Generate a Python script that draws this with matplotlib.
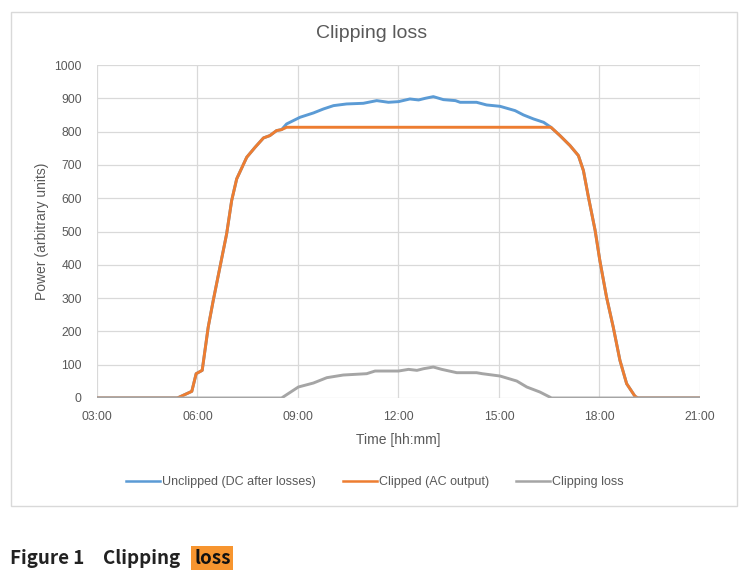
import matplotlib
matplotlib.use("Agg")
import matplotlib.pyplot as plt
from matplotlib.patches import Rectangle

# values (hours of day -> power)
clipped_t = [3.0, 5.4, 5.83, 5.96, 6.14, 6.32, 6.47, 6.67, 6.87, 7.02, 7.17, 7.47, 7.72, 7.97, 8.16, 8.36, 8.51, 8.66,
             16.55, 16.82, 17.12, 17.37, 17.52, 17.67, 17.87, 18.01, 18.21, 18.41, 18.61, 18.81, 19.06, 19.15, 21.0]
clipped_v = [0, 0, 20, 73, 83, 213, 293, 393, 493, 593, 658, 723, 753, 781, 788, 803, 806, 813,
             813, 788, 758, 728, 683, 603, 503, 413, 303, 213, 113, 43, 5, 0, 0]

unclipped_t = [3.0, 5.4, 5.83, 5.96, 6.14, 6.32, 6.47, 6.67, 6.87, 7.02, 7.17, 7.47, 7.72, 7.97, 8.16, 8.36, 8.51,
               8.66, 9.06, 9.46, 9.76, 10.06, 10.45, 10.95, 11.35, 11.7, 12.0, 12.34, 12.6, 12.8, 13.04, 13.34,
               13.7, 13.84, 14.33, 14.63, 15.03, 15.48, 15.73, 16.03, 16.33, 16.55,
               16.82, 17.12, 17.37, 17.52, 17.67, 17.87, 18.01, 18.21, 18.41, 18.61, 18.81, 19.06, 19.15, 21.0]
unclipped_v = [0, 0, 20, 73, 83, 213, 293, 393, 493, 593, 658, 723, 753, 781, 788, 803, 806,
               823, 843, 856, 868, 878, 883, 885, 893, 888, 890, 898, 895, 900, 905, 896,
               893, 888, 888, 880, 876, 863, 850, 838, 828, 813,
               788, 758, 728, 683, 603, 503, 413, 303, 213, 113, 43, 5, 0, 0]

loss_t = [3.0, 8.51, 9.01, 9.46, 9.86, 10.35, 11.05, 11.3, 12.0, 12.3, 12.55, 12.75, 13.04, 13.29, 13.74,
          14.33, 14.5, 15.03, 15.53, 15.83, 16.22, 16.57, 21.0]
loss_v = [0, 0, 33, 45, 61, 69, 73, 81, 81, 86, 83, 88, 93, 86, 76, 76, 73, 66, 51, 33, 18, 0, 0]

x_ticks = [3, 6, 9, 12, 15, 18, 21]
x_labels = ["03:00", "06:00", "09:00", "12:00", "15:00", "18:00", "21:00"]
y_ticks = list(range(0, 1001, 100))

plt.rcParams['font.family'] = ['Liberation Sans', 'DejaVu Sans']
txt = "#595959"

fig = plt.figure(figsize=(7.43, 5.80), dpi=100)
fig.patch.set_facecolor("white")

# chart frame
fig.patches.append(Rectangle((11 / 743, 1 - 506 / 580), 726 / 743, 494 / 580, transform=fig.transFigure,
                             facecolor="none", edgecolor="#d9d9d9", lw=1.0, zorder=-1))

ax = fig.add_axes([97 / 743, 1 - 398 / 580, 603 / 743, 333 / 580])
ax.set_facecolor("none")
ax.plot(unclipped_t, unclipped_v, color="#5B9BD5", lw=2.1, label="Unclipped (DC after losses)")
ax.plot(clipped_t, clipped_v, color="#ED7D31", lw=2.1, label="Clipped (AC output)")
ax.plot(loss_t, loss_v, color="#A5A5A5", lw=2.1, label="Clipping loss")

ax.set_xlim(3, 21)
ax.set_ylim(0, 1000)
ax.set_xticks(x_ticks)
ax.set_xticklabels(x_labels)
ax.set_yticks(y_ticks)
ax.grid(True, color="#d9d9d9", lw=0.9)
ax.set_axisbelow(True)
for s in ax.spines.values():
    s.set_visible(False)
ax.tick_params(length=0, colors=txt, labelsize=8.7)
ax.tick_params(axis="x", pad=9)
ax.tick_params(axis="y", pad=11)

fig.text(372 / 743, 1 - 33 / 580, "Clipping loss", color=txt, fontsize=14, ha="center", va="center")
ax.set_xlabel("Time [hh:mm]", color=txt, fontsize=10)
ax.set_ylabel("Power (arbitrary units)", color=txt, fontsize=10)
ax.xaxis.set_label_coords((398 - 97) / 603, (398 - 433) / 333)
ax.yaxis.set_label_coords((49 - 97) / 603, 0.5)

leg = ax.legend(loc="center", bbox_to_anchor=(375 / 743, 1 - 482 / 580), bbox_transform=fig.transFigure,
                ncol=3, frameon=False, fontsize=9, labelcolor=txt, handlelength=2.7, columnspacing=2.2,
                handletextpad=0.15)
for h in leg.legend_handles:
    h.set_linewidth(1.8)

# caption below the chart box
cap_font = ['Noto Sans CJK KR', 'DejaVu Sans']
cap_y = 1 - 558 / 580
fig.text(10 / 743, cap_y, "Figure 1", family=cap_font, fontweight="bold",
         fontsize=13.5, color="#222222", va="center", ha="left")
fig.text(103 / 743, cap_y, "Clipping", family=cap_font, fontweight="bold",
         fontsize=13.5, color="#222222", va="center", ha="left")
fig.text(194 / 743, cap_y, "loss", family=cap_font, fontweight="bold", fontsize=13.5, color="#111111",
         va="center", ha="left",
         bbox=dict(boxstyle="square,pad=0.15", facecolor="#F7952F", edgecolor="none"))

fig.savefig("out.png", dpi=100)
